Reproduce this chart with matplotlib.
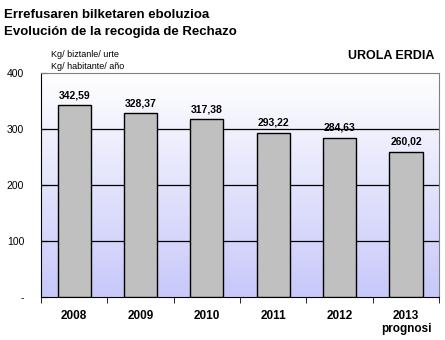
import numpy as np
import matplotlib.pyplot as plt
from matplotlib.colors import LinearSegmentedColormap

years = ["2008", "2009", "2010", "2011", "2012", "2013\nprognosi"]
values = [342.59, 328.37, 317.38, 293.22, 284.63, 260.02]
labels = ["342,59", "328,37", "317,38", "293,22", "284,63", "260,02"]
yticks = [0, 100, 200, 300, 400]
yticklabels = ["-", "100", "200", "300", "400"]

plt.rcParams['font.family'] = ['Liberation Sans', 'DejaVu Sans']

fig = plt.figure(figsize=(4.45, 3.4), dpi=100)
ax = fig.add_axes([0.092, 0.126, 0.895, 0.659])

# fondo degradado blanco -> lila
grad = np.linspace(0, 1, 256).reshape(-1, 1)
cmap = LinearSegmentedColormap.from_list("bg", ["#ffffff", "#c8c8fa"])
ax.imshow(grad, extent=[0, 1, 0, 1], transform=ax.transAxes, aspect='auto',
          cmap=cmap, origin='upper', zorder=0)

x = np.arange(len(years))
ax.bar(x, values, width=0.5, color="#c0c0c0", edgecolor="black", linewidth=1.0, zorder=3)
for xi, v, lab in zip(x, values, labels):
    ax.text(xi, v + 9, lab, ha='center', va='bottom', fontsize=7.5, fontweight='bold', zorder=4)

ax.set_xlim(-0.5, len(years) - 0.5)
ax.set_ylim(0, 400)
ax.set_yticks(yticks)
ax.set_yticklabels(yticklabels, fontsize=7.5)
ax.set_xticks(x)
ax.set_xticklabels(years, fontsize=8.5, fontweight='bold')
ax.tick_params(axis='x', length=0, pad=9)
ax.tick_params(axis='y', length=4, direction='in', pad=12)
for yv in [100, 200, 300]:
    ax.axhline(yv, color='black', linewidth=0.9, zorder=1)

for s in ['top', 'right']:
    ax.spines[s].set_color('#808080')
ax.spines['left'].set_color('black')
ax.spines['bottom'].set_color('black')
ax.set_xticks(np.arange(len(years) + 1) - 0.5, minor=True)
ax.tick_params(axis='x', which='minor', length=4, direction='out')

fig.text(0.01, 0.975, "Errefusaren bilketaren eboluzioa", fontsize=9.5, fontweight='bold', va='top')
fig.text(0.01, 0.925, "Evolución de la recogida de Rechazo", fontsize=9.5, fontweight='bold', va='top')
fig.text(0.115, 0.84, "Kg/ biztanle/ urte", fontsize=6.5, va='center')
fig.text(0.115, 0.805, "Kg/ habitante/ año", fontsize=6.5, va='center')
fig.text(0.975, 0.835, "UROLA ERDIA", fontsize=9, fontweight='bold', ha='right', va='center')

fig.savefig("out.png", dpi=100)
